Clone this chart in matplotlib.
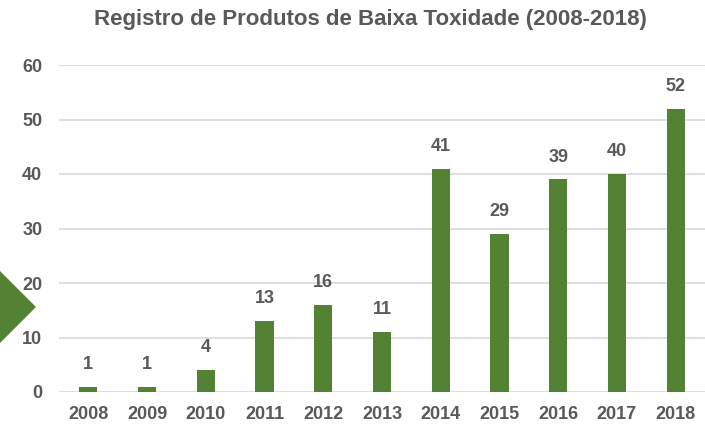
import matplotlib
matplotlib.use("Agg")
import matplotlib.pyplot as plt
from matplotlib.patches import Polygon

years = ["2008", "2009", "2010", "2011", "2012", "2013",
         "2014", "2015", "2016", "2017", "2018"]
registros = [1, 1, 4, 13, 16, 11, 41, 29, 39, 40, 52]
y_ticks = [0, 10, 20, 30, 40, 50, 60]

text_color = "#595959"
bar_color = "#548235"
plt.rcParams['font.family'] = ['Liberation Sans', 'DejaVu Sans']

fig = plt.figure(figsize=(7.05, 4.25), dpi=100)
ax = fig.add_axes([59 / 705, 1 - 392 / 425, 646 / 705, (392 - 65) / 425])

x = range(len(years))
bars = ax.bar(x, registros, width=0.31, color=bar_color, zorder=2)
for xi, v in zip(x, registros):
    ax.annotate(str(v), (xi, v), xytext=(0, 10), textcoords="offset points",
                ha="center", va="bottom", fontsize=13, fontweight="bold",
                color=text_color)

ax.set_xlim(-0.5, len(years) - 0.5)
ax.set_ylim(0, 60)
ax.set_yticks(y_ticks)
ax.set_xticks(list(x))
ax.set_xticklabels(years)
ax.grid(axis="y", color="#d9d9d9", linewidth=1.2, zorder=0)
for s in ax.spines.values():
    s.set_visible(False)
ax.tick_params(length=0, labelsize=13, labelcolor=text_color)
for lbl in ax.get_xticklabels() + ax.get_yticklabels():
    lbl.set_fontweight("bold")
ax.tick_params(axis="x", pad=10)
ax.tick_params(axis="y", pad=12)

fig.text(370 / 705, 1 - 20 / 425, "Registro de Produtos de Baixa Toxidade (2008-2018)",
         ha="center", va="center", fontsize=16, fontweight="bold", color=text_color)

# green arrow decoration on the left edge
tri = Polygon([(-5 / 705, 1 - 267 / 425), (35 / 705, 1 - 307 / 425), (-5 / 705, 1 - 347 / 425)],
              closed=True, transform=fig.transFigure, color=bar_color, clip_on=False)
fig.patches.append(tri)

fig.savefig("out.png", dpi=100)
